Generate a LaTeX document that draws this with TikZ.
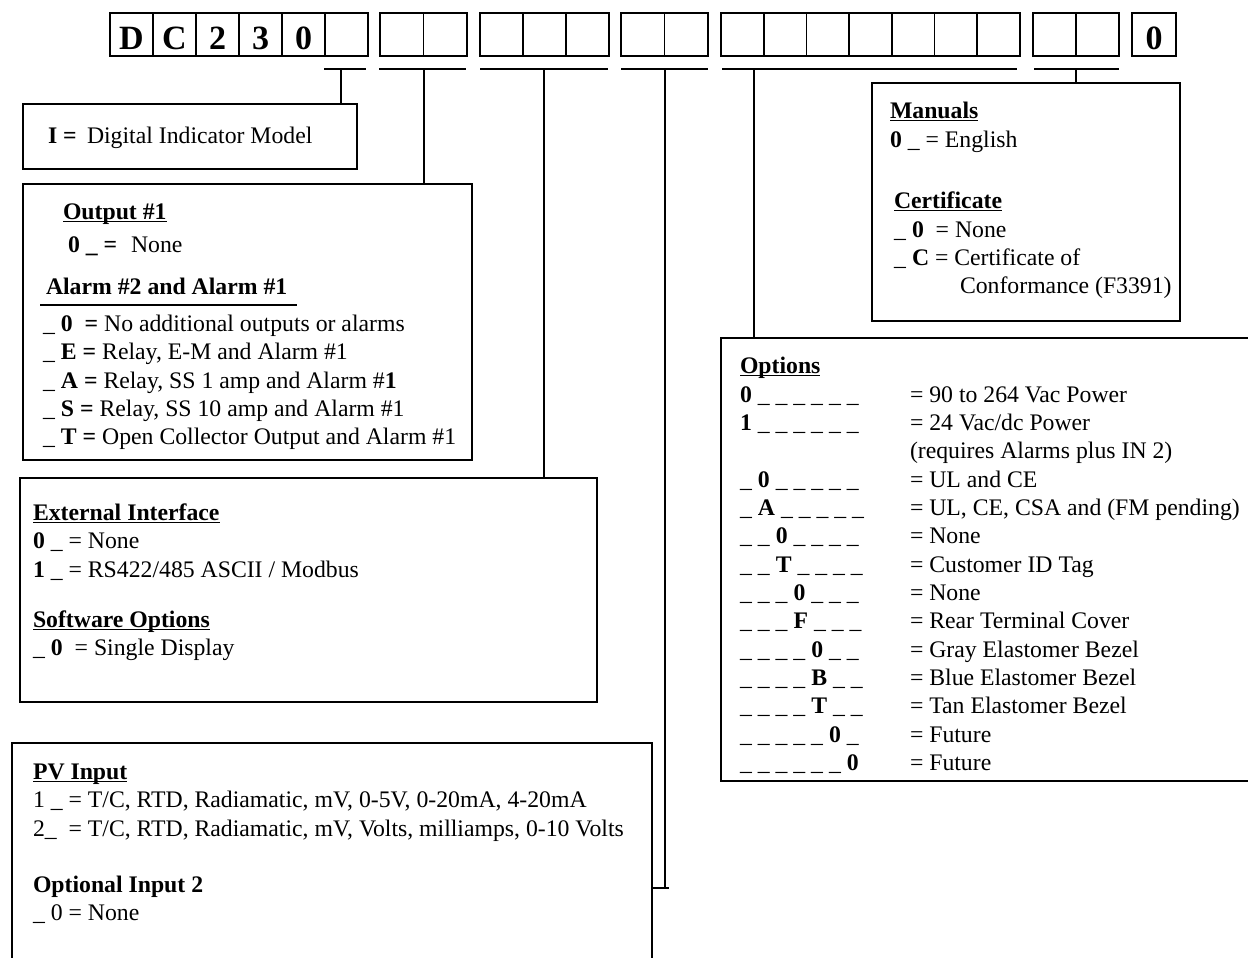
\documentclass[tikz,border=0pt]{standalone}
\usepackage{fontspec}
\setmainfont{Liberation Serif}
\newcommand\fs{\fontsize{17.8pt}{21pt}\selectfont}
\newcommand\bigfs{\fontsize{25.5pt}{29pt}\selectfont\bfseries}
\newcommand\myul[1]{\setbox0\hbox{#1}\rlap{\rule[-2.6pt]{\wd0}{1pt}}\box0}
\begin{document}
\begin{tikzpicture}[x=0.75pt,y=-0.75pt,line width=1.3pt,
  txt/.style={anchor=base west,inner sep=0pt,outer sep=0pt,font=\fs},
  letter/.style={anchor=base,inner sep=0pt,outer sep=0pt,font=\bigfs},
  box/.style={draw,line width=1.3pt,inner sep=0pt,outer sep=0pt,anchor=north west},
  cell/.style={line width=1.2pt},
  conn/.style={line width=1.3pt}]
\useasboundingbox (0,0) rectangle (1248,957);
\clip (0,0) rectangle (1248,957);

% ---------- code cells ----------
\foreach \i in {0,...,5} \draw[cell] (110+43*\i,13) rectangle ++(43,43);
\foreach \i in {0,1} \draw[cell] (380+43.5*\i,13) rectangle ++(43.5,43);
\foreach \i in {0,1,2} \draw[cell] (480+43*\i,13) rectangle ++(43,43);
\foreach \i in {0,1} \draw[cell] (621+43.5*\i,13) rectangle ++(43.5,43);
\foreach \i in {0,...,6} \draw[cell] (721+42.71*\i,13) rectangle ++(42.71,43);
\foreach \i in {0,1} \draw[cell] (1033+43*\i,13) rectangle ++(43,43);
\draw[cell] (1132,13) rectangle (1176,56);

\node[letter] (cD) at (131.5,49) {D};
\node[letter] (cC) at (174.5,49) {C};
\node[letter] (c2) at (217.5,49) {2};
\node[letter] (c3) at (260.5,49) {3};
\node[letter] (c0) at (303.5,49) {0};
\node[letter] (cL) at (1154,49) {0};

% ---------- bars ----------
\draw[conn] (324,69) -- (366,69);  \coordinate (b1) at (341,69);
\draw[conn] (379,69) -- (466,69);  \coordinate (b2) at (424,69);
\draw[conn] (480,69) -- (608,69);  \coordinate (b3) at (544,69);
\draw[conn] (621,69) -- (708,69);  \coordinate (b4) at (665,69);
\draw[conn] (722,69) -- (1017,69); \coordinate (b5) at (754,69);
\draw[conn] (1034,69) -- (1119,69);\coordinate (b6) at (1076,69);

% ---------- boxes ----------
\node[box,minimum width=334*0.75pt,minimum height=65*0.75pt] (ibox) at (23,104) {};
\node[box,minimum width=449*0.75pt,minimum height=276*0.75pt] (obox) at (23,184) {};
\node[box,minimum width=577*0.75pt,minimum height=224*0.75pt] (ebox) at (20,478) {};
\node[box,minimum width=640*0.75pt,minimum height=240*0.75pt] (pbox) at (12,743) {};
\node[box,minimum width=308*0.75pt,minimum height=238*0.75pt] (mbox) at (872,83) {};
\node[box,minimum width=540*0.75pt,minimum height=443*0.75pt] (xbox) at (721,338) {};

% ---------- connectors ----------
\draw[conn] (b1) -- (b1 |- ibox.north);
\draw[conn] (b2) -- (b2 |- obox.north);
\draw[conn] (b3) -- (b3 |- ebox.north);
\coordinate (pvj) at (665,888);
\draw[conn] (b4) -- (pvj);
\draw[conn] (pbox.east |- pvj) -- (669,888);
\draw[conn] (b5) -- (b5 |- xbox.north);
\draw[conn] (b6) -- (b6 |- mbox.north);

% ---------- indicator box ----------
\node[txt] (i1) at (48,143) {\textbf{I =}};
\node[txt] (i2) at (87,143) {Digital Indicator Model};

% ---------- output box ----------
\node[txt] (o1) at (63,219) {\textbf{\myul{Output \#1}}};
\node[txt] (o2) at (68,252) {\textbf{0 \_ =}};
\node[txt] (o3) at (131,252) {None};
\node[txt] (o4) at (46,294) {\textbf{Alarm \#2 and Alarm \#1}};
\draw[line width=1.4pt] (40,305) -- (297,305);
\node[txt] (o5) at (43,331) {\_ \textbf{0}~ \textbf{=} No additional outputs or alarms};
\node[txt] (o6) at (43,359) {\_ \textbf{E} \textbf{=} Relay, E-M and Alarm \#1};
\node[txt] (o7) at (43,388) {\_ \textbf{A} \textbf{=} Relay, SS 1 amp and Alarm \#\textbf{1}};
\node[txt] (o8) at (43,416) {\_ \textbf{S} \textbf{=} Relay, SS 10 amp and Alarm \#1};
\node[txt] (o9) at (43,444) {\_ \textbf{T} \textbf{=} Open Collector Output and Alarm \#1};

% ---------- external interface box ----------
\node[txt] (e1) at (33,520) {\textbf{\myul{External Interface}}};
\node[txt] (e2) at (33,548) {\textbf{0} \_ = None};
\node[txt] (e3) at (33,577) {\textbf{1} \_ = RS422/485 ASCII / Modbus};
\node[txt] (e4) at (33,627) {\textbf{\myul{Software Options}}};
\node[txt] (e5) at (33,655) {\_ \textbf{0}~ = Single Display};

% ---------- PV input box ----------
\node[txt] (p1) at (33,779) {\textbf{\myul{PV Input}}};
\node[txt] (p2) at (33,807) {1 \_ = T/C, RTD, Radiamatic, mV, 0-5V, 0-20mA, 4-20mA};
\node[txt] (p3) at (33,836) {2\_~ = T/C, RTD, Radiamatic, mV, Volts, milliamps, 0-10 Volts};
\node[txt] (p4) at (33,892) {\textbf{Optional Input 2}};
\node[txt] (p5) at (33,920) {\_ 0 = None};

% ---------- manuals box ----------
\node[txt] (m1) at (890,118) {\textbf{\myul{Manuals}}};
\node[txt] (m2) at (890,147) {\textbf{0} \_ = English};
\node[txt] (m3) at (894,208) {\textbf{\myul{Certificate}}};
\node[txt] (m4) at (894,237) {\_ \textbf{0}~ = None};
\node[txt] (m5) at (894,265) {\_ \textbf{C} = Certificate of};
\node[txt] (m6) at (960,293) {Conformance (F3391)};

% ---------- options box ----------
\node[txt] (x0) at (740,373) {\textbf{\myul{Options}}};
\def\rowy#1{402.3+28.33*#1}
\node[txt] (xa1) at (740,{\rowy{0}}) {\textbf{0} \_ \_ \_ \_ \_ \_};
\node[txt] (xb1) at (910,{\rowy{0}}) {= 90 to 264 Vac Power};
\node[txt] (xa2) at (740,{\rowy{1}}) {\textbf{1} \_ \_ \_ \_ \_ \_};
\node[txt] (xb2) at (910,{\rowy{1}}) {= 24 Vac/dc Power};
\node[txt] (xb3) at (910,{\rowy{2}}) {(requires Alarms plus IN 2)};
\node[txt] (xa4) at (740,{\rowy{3}}) {\_ \textbf{0} \_ \_ \_ \_ \_};
\node[txt] (xb4) at (910,{\rowy{3}}) {= UL and CE};
\node[txt] (xa5) at (740,{\rowy{4}}) {\_ \textbf{A} \_ \_ \_ \_ \_};
\node[txt] (xb5) at (910,{\rowy{4}}) {= UL, CE, CSA and (FM pending)};
\node[txt] (xa6) at (740,{\rowy{5}}) {\_ \_ \textbf{0} \_ \_ \_ \_};
\node[txt] (xb6) at (910,{\rowy{5}}) {= None};
\node[txt] (xa7) at (740,{\rowy{6}}) {\_ \_ \textbf{T} \_ \_ \_ \_};
\node[txt] (xb7) at (910,{\rowy{6}}) {= Customer ID Tag};
\node[txt] (xa8) at (740,{\rowy{7}}) {\_ \_ \_ \textbf{0} \_ \_ \_};
\node[txt] (xb8) at (910,{\rowy{7}}) {= None};
\node[txt] (xa9) at (740,{\rowy{8}}) {\_ \_ \_ \textbf{F} \_ \_ \_};
\node[txt] (xb9) at (910,{\rowy{8}}) {= Rear Terminal Cover};
\node[txt] (xa10) at (740,{\rowy{9}}) {\_ \_ \_ \_ \textbf{0} \_ \_};
\node[txt] (xb10) at (910,{\rowy{9}}) {= Gray Elastomer Bezel};
\node[txt] (xa11) at (740,{\rowy{10}}) {\_ \_ \_ \_ \textbf{B} \_ \_};
\node[txt] (xb11) at (910,{\rowy{10}}) {= Blue Elastomer Bezel};
\node[txt] (xa12) at (740,{\rowy{11}}) {\_ \_ \_ \_ \textbf{T} \_ \_};
\node[txt] (xb12) at (910,{\rowy{11}}) {= Tan Elastomer Bezel};
\node[txt] (xa13) at (740,{\rowy{12}}) {\_ \_ \_ \_ \_ \textbf{0} \_};
\node[txt] (xb13) at (910,{\rowy{12}}) {= Future};
\node[txt] (xa14) at (740,{\rowy{13}}) {\_ \_ \_ \_ \_ \_ \textbf{0}};
\node[txt] (xb14) at (910,{\rowy{13}}) {= Future};
\end{tikzpicture}
\end{document}
